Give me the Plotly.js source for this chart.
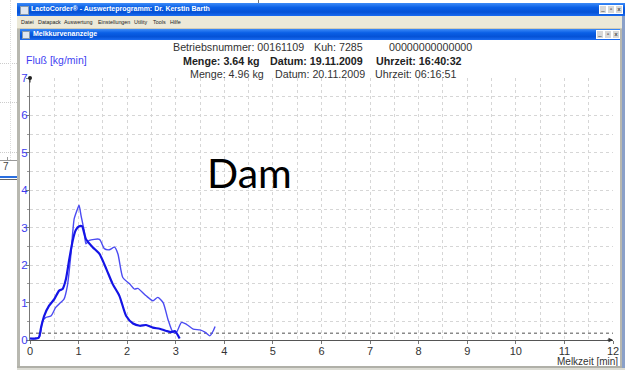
<!DOCTYPE html>
<html>
<head>
<meta charset="utf-8">
<script src="https://cdn.plot.ly/plotly-3.0.1.min.js"></script>
<style>
  html, body { margin:0; padding:0; background:#fff; width:625px; height:370px; overflow:hidden; font-family:"Liberation Sans", Arial, sans-serif; }
  #chart { position:absolute; left:0; top:0; width:625px; height:370px; }
  .abs { position:absolute; }
  .bar { background:linear-gradient(to bottom,#3d8bf7 0%,#0a5fe6 35%,#0552d6 70%,#1a6bf0 100%); }
  .ttl { color:#fff; font-weight:bold; font-size:7px; white-space:nowrap; }
  .btn { width:6px; height:7px; background:#d8d8d8; border:1px solid #fff; font-size:6px; line-height:7px; text-align:center; color:#000; }
  .menu span { position:absolute; top:3px; font-size:5.4px; color:#222; white-space:nowrap; }
</style>
</head>
<body>
<div id="chart"></div>

<!-- background window strip on the left -->
<div class="abs" style="left:0;top:0;width:17px;height:370px;background:#fff;"></div>
<div class="abs" style="left:0;top:63px;width:17px;border-top:1px dotted #ccc;"></div>
<div class="abs" style="left:0;top:102px;width:17px;border-top:1px dotted #ccc;"></div>
<div class="abs" style="left:0;top:152px;width:17px;border-top:1px dotted #ccc;"></div>
<div class="abs" style="left:10px;top:0;height:160px;border-left:1px dotted #ddd;"></div>
<div class="abs" style="left:0;top:160px;width:17px;border-top:1px solid #999;"></div>
<div class="abs" style="left:7px;top:157px;height:4px;border-left:1px solid #999;"></div>
<div class="abs" style="left:3px;top:161px;font-size:10px;color:#444;">7</div>
<div class="abs" style="left:0;top:176px;width:17px;height:2px;background:#2a6fe0;"></div>
<div class="abs" style="left:0;top:179px;width:17px;height:1px;background:#666;"></div>
<div class="abs" style="left:258px;top:0;width:1px;height:4px;background:#777;"></div>

<!-- outer window -->
<div class="abs bar" style="left:17px;top:3px;width:608px;height:13px;"></div>
<div class="abs" style="left:20px;top:6px;width:7px;height:7px;background:#dfe6f0;border:1px solid #8899aa;"></div>
<div class="abs ttl" style="left:31px;top:5px;">LactoCorder® - Auswerteprogramm: Dr. Kerstin Barth</div>
<div class="abs btn" style="left:599px;top:5px;">_</div>
<div class="abs btn" style="left:607px;top:5px;">▫</div>
<div class="abs btn" style="left:615px;top:5px;">x</div>
<div class="abs menu" style="left:17px;top:16px;width:608px;height:12px;background:#ece9d8;">
  <span style="left:4px;">Datei</span>
  <span style="left:21px;">Datapack</span>
  <span style="left:47px;">Auswertung</span>
  <span style="left:81px;">Einstellungen</span>
  <span style="left:117px;">Utility</span>
  <span style="left:136px;">Tools</span>
  <span style="left:153px;">Hilfe</span>
</div>
<div class="abs" style="left:17px;top:28px;width:608px;height:1px;background:#cfcbb8;"></div>

<!-- inner window -->
<div class="abs bar" style="left:19px;top:29px;width:603px;height:11px;"></div>
<div class="abs" style="left:22px;top:31px;width:6px;height:6px;background:#dfe6f0;border:1px solid #8899aa;"></div>
<div class="abs ttl" style="left:33px;top:30px;">Melkkurvenanzeige</div>
<div class="abs btn" style="left:596px;top:30px;">_</div>
<div class="abs btn" style="left:604px;top:30px;">▫</div>
<div class="abs btn" style="left:612px;top:30px;">x</div>
<div class="abs" style="left:17px;top:29px;width:3px;height:340px;background:#b8b8b0;"></div>
<div class="abs" style="left:620px;top:29px;width:2px;height:340px;background:#b8b8b0;"></div>
<div class="abs" style="left:622px;top:16px;width:3px;height:354px;background:#8aa0c8;"></div>
<div class="abs" style="left:17px;top:366px;width:605px;height:2px;background:#b0b0a8;"></div>
<div class="abs" style="left:17px;top:368px;width:608px;height:2px;background:#dcdcd4;"></div>

<script>
// Milking curve 19.11.2009 (Menge 3.64 kg) - bold line
const time1 = [0, 0.1, 0.18, 0.23, 0.29, 0.39, 0.5, 0.6, 0.67, 0.74, 0.81, 0.88, 0.94, 1.01, 1.07, 1.15, 1.29, 1.43, 1.57, 1.7, 1.84, 1.98, 2.12, 2.26, 2.39, 2.53, 2.67, 2.81, 2.91, 2.98, 3.08];
const flow1 = [0.04, 0.04, 0.06, 0.35, 0.64, 0.91, 1.09, 1.32, 1.36, 1.63, 2.17, 2.66, 2.93, 3.04, 3.04, 2.7, 2.48, 2.3, 1.9, 1.5, 1.18, 0.64, 0.44, 0.38, 0.4, 0.33, 0.3, 0.24, 0.21, 0.24, 0.04];
// Milking curve 20.11.2009 (Menge 4.96 kg) - thin line
const time2 = [0, 0.12, 0.2, 0.26, 0.32, 0.43, 0.53, 0.63, 0.7, 0.77, 0.84, 0.91, 0.98, 1.01, 1.05, 1.12, 1.15, 1.22, 1.43, 1.53, 1.63, 1.74, 1.81, 1.91, 2.05, 2.15, 2.22, 2.39, 2.53, 2.63, 2.74, 2.84, 2.94, 3.01, 3.12, 3.22, 3.36, 3.5, 3.6, 3.7, 3.77, 3.81];
const flow2 = [0.04, 0.03, 0.1, 0.51, 0.6, 0.64, 0.87, 1.0, 1.09, 1.45, 2.26, 3.24, 3.51, 3.6, 3.33, 2.88, 2.57, 2.66, 2.69, 2.44, 2.41, 2.48, 2.3, 1.67, 1.5, 1.36, 1.38, 1.18, 1.05, 1.14, 1.0, 0.55, 0.21, 0.2, 0.47, 0.42, 0.29, 0.27, 0.21, 0.11, 0.24, 0.36];
// Threshold line
const thresholdX = [0, 12];
const thresholdY = [0.18, 0.18];
// Axis ticks
const xTicks = [0,1,2,3,4,5,6,7,8,9,10,11,12];
const yTicks = [0,1,2,3,4,5,6,7];

const L = 30, T = 78, W = 583, H = 262;
const px = x => (x - L) / W;
const py = y => (T + H - y) / H;
const F = "Liberation Sans, Arial, sans-serif";

function txt(text, x, y, opts) {
  return Object.assign({
    text: text, xref: 'paper', yref: 'paper', x: px(x), y: py(y),
    xanchor: 'left', yanchor: 'middle', showarrow: false,
    font: {family: F, size: 10.7, color: '#333'}
  }, opts || {});
}

const traces = [
  {x: thresholdX, y: thresholdY, mode: 'lines', line: {color: '#8a8a8a', width: 1.3, dash: 'dot'}, hoverinfo: 'skip'},
  {x: time2, y: flow2, mode: 'lines', line: {color: '#4b4bf2', width: 1.4, shape: 'spline', smoothing: 0.6}},
  {x: time1, y: flow1, mode: 'lines', line: {color: '#1414e6', width: 2.2, shape: 'spline', smoothing: 0.6}}
];

const annotations = [
  txt('Betriebsnummer: 00161109', 171, 47),
  txt('Kuh: 7285', 312, 47),
  txt('00000000000000', 387, 47),
  txt('<b>Menge: 3.64 kg</b>', 181, 61, {font: {family: F, size: 10.7, color: '#222'}}),
  txt('<b>Datum: 19.11.2009</b>', 268, 61, {font: {family: F, size: 10.7, color: '#222'}}),
  txt('<b>Uhrzeit: 16:40:32</b>', 374, 61, {font: {family: F, size: 10.7, color: '#222'}}),
  txt('Menge: 4.96 kg', 188, 74),
  txt('Datum: 20.11.2009', 273, 74),
  txt('Uhrzeit: 06:16:51', 373, 74),
  txt('Fluß [kg/min]', 24, 60, {font: {family: F, size: 10.5, color: '#3f3ff2'}}),
  txt('Melkzeit [min]', 620, 361.5, {xanchor: 'right', font: {family: F, size: 10, color: '#333'}}),
  txt('Dam', 205, 172, {font: {family: 'Lato, Liberation Sans, sans-serif', size: 41, color: '#000'}}),
  {x: 12, y: 0, xref: 'x', yref: 'y', ax: -7, ay: 0, showarrow: true, arrowhead: 2, arrowsize: 0.9, arrowwidth: 1, arrowcolor: '#333', text: ''},
  {x: 0, y: 7, xref: 'x', yref: 'y', ax: 0, ay: 6, showarrow: true, arrowhead: 6, arrowsize: 1, arrowwidth: 1, arrowcolor: '#222', text: ''}
];

const layout = {
  width: 625, height: 370,
  margin: {l: L, r: 625 - L - W, t: T, b: 370 - T - H, pad: 0},
  paper_bgcolor: '#fff', plot_bgcolor: '#fff',
  showlegend: false,
  xaxis: {
    range: [0, 12], tickvals: xTicks, ticktext: xTicks.map(String),
    showgrid: true, gridcolor: '#d6d6d6', griddash: 'dot', gridwidth: 1,
    minor: {dtick: 0.5, showgrid: true, gridcolor: '#d6d6d6', griddash: 'dot', ticks: ''},
    zeroline: false, showline: true, linecolor: '#555', linewidth: 1,
    ticks: 'outside', ticklen: 3, tickcolor: '#777', ticklabelstandoff: -2,
    tickfont: {family: F, size: 11, color: '#333'}, fixedrange: true
  },
  yaxis: {
    range: [0, 7], tickvals: yTicks, ticktext: yTicks.map(String),
    showgrid: true, gridcolor: '#d6d6d6', griddash: 'dot', gridwidth: 1,
    minor: {dtick: 0.5, showgrid: true, gridcolor: '#d6d6d6', griddash: 'dot', ticks: 'outside', ticklen: 2, tickcolor: '#999'},
    zeroline: false, showline: true, linecolor: '#777', linewidth: 1,
    ticks: 'outside', ticklen: 3, tickcolor: '#777', ticklabelstandoff: -4,
    tickfont: {family: F, size: 11.5, color: '#3c3cf0'}, fixedrange: true
  },
  annotations: annotations
};

Plotly.newPlot('chart', traces, layout, {staticPlot: true, displayModeBar: false});
</script>
</body>
</html>
